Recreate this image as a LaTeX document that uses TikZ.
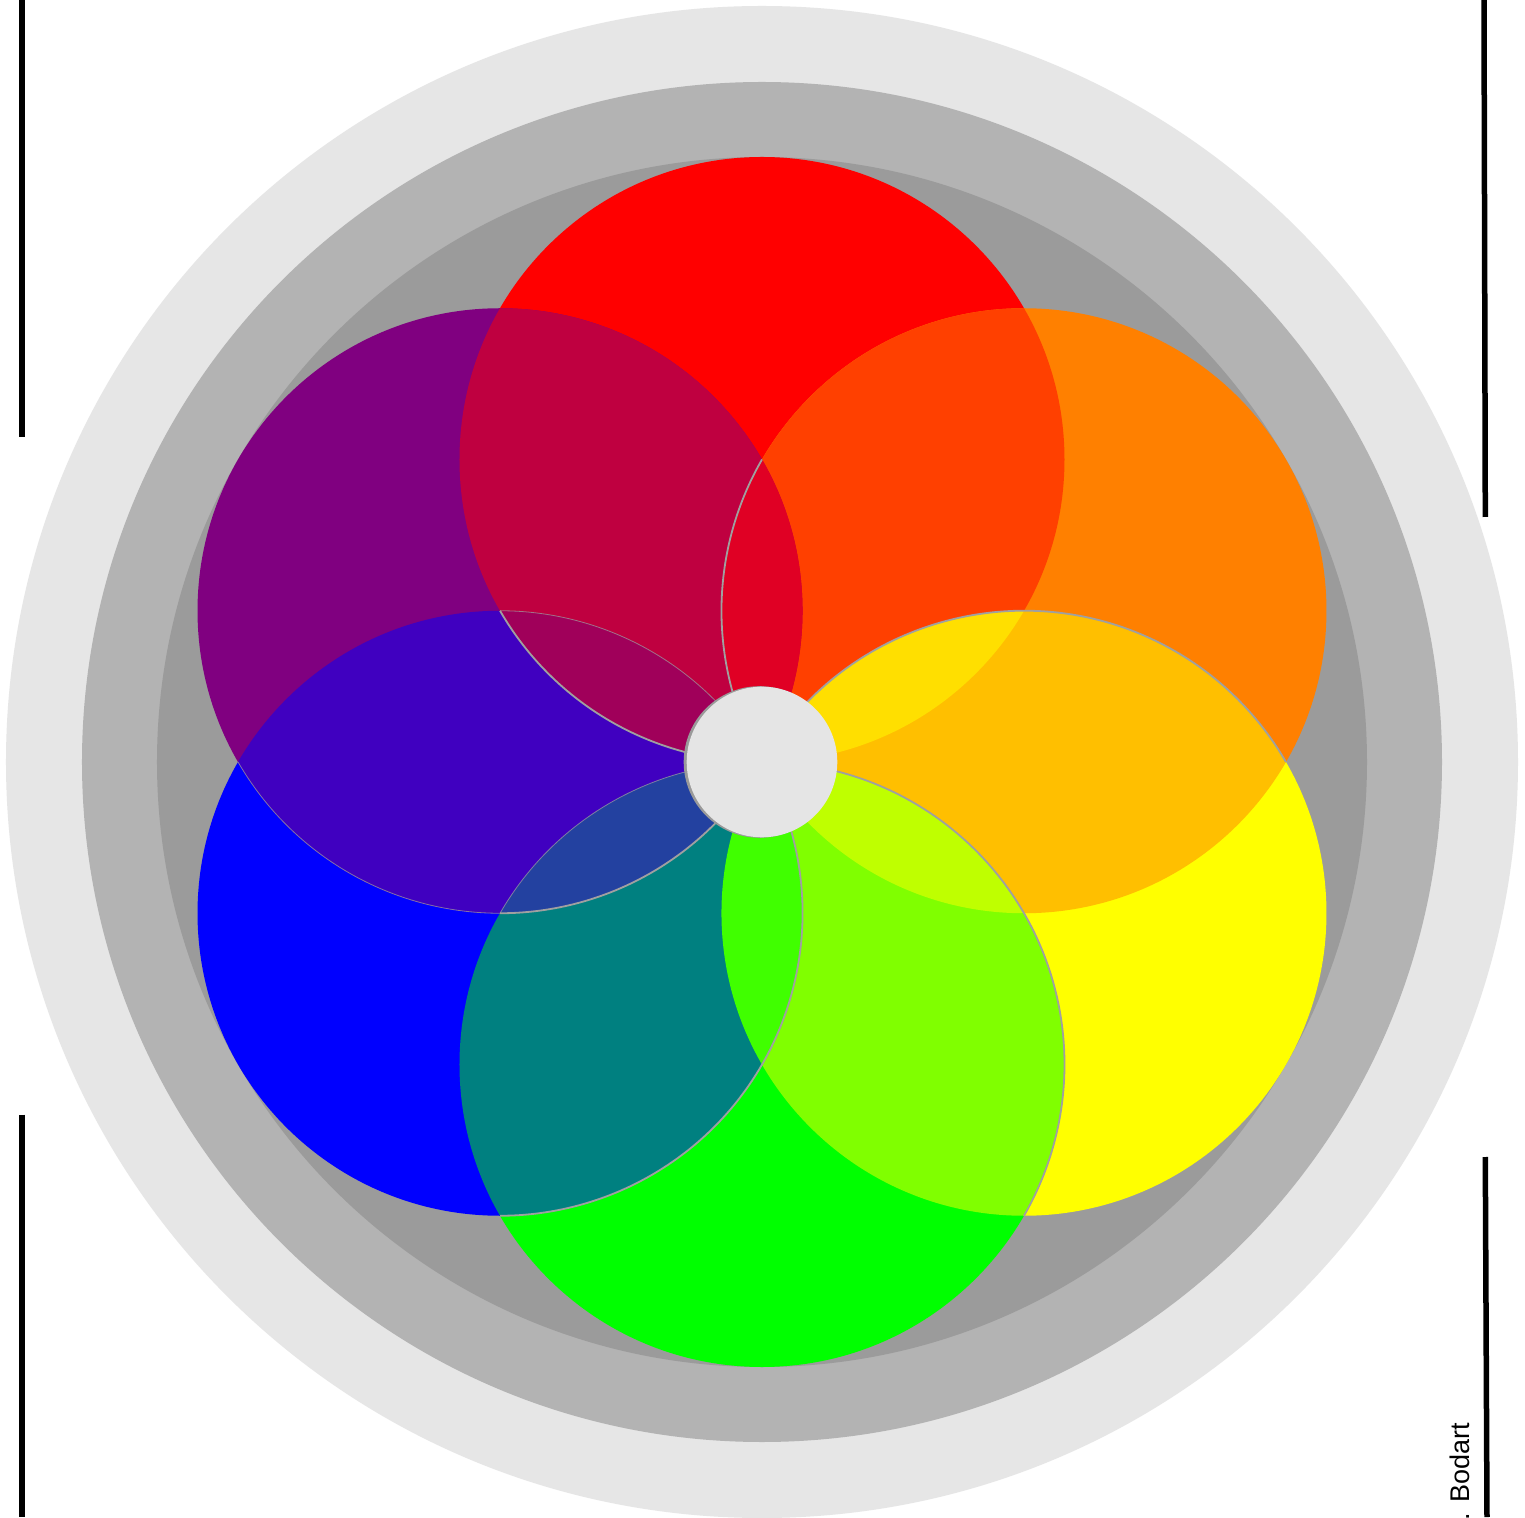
\documentclass[tikz,border=0pt]{standalone}
\usepackage{fontspec}
\setmainfont{Liberation Sans}
\definecolor{ringA}{HTML}{E6E6E6}
\definecolor{ringB}{HTML}{B3B3B3}
\definecolor{ringC}{HTML}{9B9B9B}
\definecolor{hubgray}{HTML}{E5E5E5}
\definecolor{hubshadow}{HTML}{9A9A9A}
\definecolor{edgegray}{HTML}{A0A0A0}
% single colours
\definecolor{cRed}{HTML}{FF0000}
\definecolor{cOrange}{HTML}{FF8000}
\definecolor{cYellow}{HTML}{FFFF00}
\definecolor{cGreen}{HTML}{00FF00}
\definecolor{cBlue}{HTML}{0000FF}
\definecolor{cPurple}{HTML}{800080}
% pair colours
\definecolor{pRO}{HTML}{FF4000}
\definecolor{pOY}{HTML}{FFBF00}
\definecolor{pYG}{HTML}{80FF00}
\definecolor{pGB}{HTML}{008080}
\definecolor{pBP}{HTML}{4000C0}
\definecolor{pPR}{HTML}{BF0040}
% triple colours
\definecolor{tR}{HTML}{E00024}
\definecolor{tO}{HTML}{FFDF00}
\definecolor{tY}{HTML}{BFFF00}
\definecolor{tG}{HTML}{40FF00}
\definecolor{tB}{HTML}{2341A0}
\definecolor{tP}{HTML}{A0005A}
\begin{document}
\begin{tikzpicture}[x=1pt,y=1pt,
  edge/.style={draw=edgegray,line width=1.8pt},
  faintedge/.style={draw=edgegray,line width=0.8pt,draw opacity=0.7},
  cropmark/.style={draw=black,line width=5.5pt}]
\useasboundingbox (-762,-755) rectangle (763,762);
\fill[white] (-762,-755) rectangle (763,762);
% grey rings
\fill[ringA] (0,0) circle[radius=756];
\fill[ringB] (0,0) circle[radius=680];
\fill[ringC] (0,0) circle[radius=605];
\def\R{302.5}
\coordinate (cR) at (90:\R);
\coordinate (cO) at (30:\R);
\coordinate (cY) at (-30:\R);
\coordinate (cG) at (-90:\R);
\coordinate (cB) at (-150:\R);
\coordinate (cP) at (150:\R);
% single circles
\fill[cRed] (cR) circle[radius=\R];
\fill[cOrange] (cO) circle[radius=\R];
\fill[cYellow] (cY) circle[radius=\R];
\fill[cGreen] (cG) circle[radius=\R];
\fill[cBlue] (cB) circle[radius=\R];
\fill[cPurple] (cP) circle[radius=\R];
% pair overlaps
\begin{scope}\clip (cR) circle[radius=\R]; \fill[pRO] (cO) circle[radius=\R];\end{scope}
\begin{scope}\clip (cO) circle[radius=\R]; \fill[pOY] (cY) circle[radius=\R];\end{scope}
\begin{scope}\clip (cY) circle[radius=\R]; \fill[pYG] (cG) circle[radius=\R];\end{scope}
\begin{scope}\clip (cG) circle[radius=\R]; \fill[pGB] (cB) circle[radius=\R];\end{scope}
\begin{scope}\clip (cB) circle[radius=\R]; \fill[pBP] (cP) circle[radius=\R];\end{scope}
\begin{scope}\clip (cP) circle[radius=\R]; \fill[pPR] (cR) circle[radius=\R];\end{scope}
% triple overlaps (lens of the two neighbours)
\begin{scope}\clip (cP) circle[radius=\R]; \fill[tR] (cO) circle[radius=\R];\end{scope}
\begin{scope}\clip (cR) circle[radius=\R]; \fill[tO] (cY) circle[radius=\R];\end{scope}
\begin{scope}\clip (cO) circle[radius=\R]; \fill[tY] (cG) circle[radius=\R];\end{scope}
\begin{scope}\clip (cY) circle[radius=\R]; \fill[tG] (cB) circle[radius=\R];\end{scope}
\begin{scope}\clip (cG) circle[radius=\R]; \fill[tB] (cP) circle[radius=\R];\end{scope}
\begin{scope}\clip (cB) circle[radius=\R]; \fill[tP] (cR) circle[radius=\R];\end{scope}
% grey edge remnants
\draw[edge] (cO) ++(150:\R) arc[start angle=150,end angle=210,radius=\R];
\draw[edge] (cR) ++(210:\R) arc[start angle=210,end angle=270,radius=\R];
\draw[edge] (cB) ++(30:\R) arc[start angle=30,end angle=-90,radius=\R];
\draw[faintedge] (cB) ++(30:\R) arc[start angle=30,end angle=90,radius=\R];
\draw[edge] (cP) ++(-30:\R) arc[start angle=-30,end angle=-90,radius=\R];
\draw[faintedge] (cP) ++(-90:\R) arc[start angle=-90,end angle=-150,radius=\R];
\draw[edge] (cY) ++(150:\R) arc[start angle=150,end angle=30,radius=\R];
\draw[edge] (cG) ++(90:\R) arc[start angle=90,end angle=-30,radius=\R];
\draw[faintedge] (cG) ++(90:\R) arc[start angle=90,end angle=150,radius=\R];
% hub
\fill[hubshadow] (-2.5,0) circle[radius=75.8];
\fill[hubgray] (0,0) circle[radius=75.3];
% crop marks
\coordinate (ltA) at (-740,762);   \coordinate (ltB) at (-740,324.5);
\coordinate (lbA) at (-740,-352.7);\coordinate (lbB) at (-740,-755);
\coordinate (rtA) at (722,762);    \coordinate (rtB) at (723.3,245);
\coordinate (rbA) at (723.3,-395); \coordinate (rbB) at (725,-755);
\draw[cropmark] (ltA) -- (ltB);
\draw[cropmark] (lbA) -- (lbB);
\draw[cropmark] (rtA) -- (rtB);
\draw[cropmark] (rbA) -- (rbB);
% credit
\node[rotate=90,anchor=base east,inner sep=0pt,font=\fontsize{27}{30}\selectfont] (credit) at (707,-661) {. Bodart};
\end{tikzpicture}
\end{document}
